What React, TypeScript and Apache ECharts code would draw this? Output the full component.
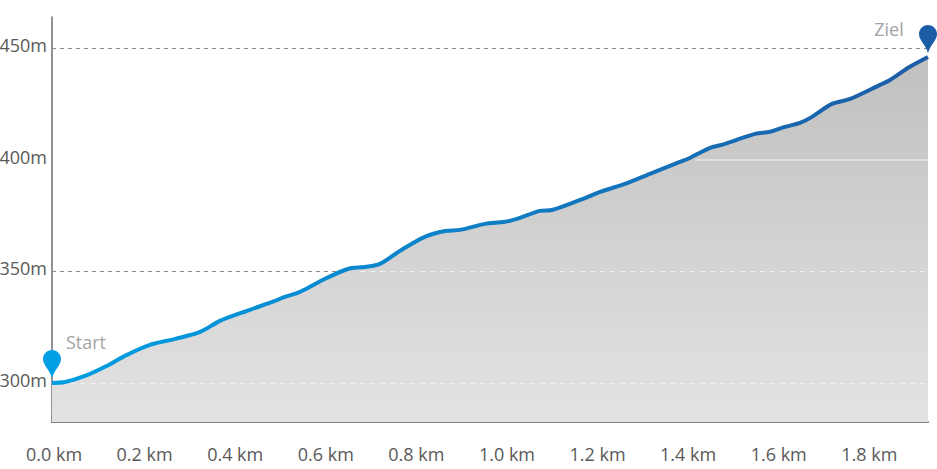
import React, { useEffect, useRef } from "react";
import * as echarts from "echarts";

const distanceKm = [0, 0.029, 0.073, 0.117, 0.161, 0.216, 0.272, 0.327, 0.371, 0.437, 0.492, 0.514, 0.547, 0.603, 0.653, 0.691, 0.724, 0.768, 0.823, 0.868, 0.901, 0.956, 1.0, 1.033, 1.077, 1.104, 1.166, 1.21, 1.265, 1.32, 1.386, 1.408, 1.453, 1.486, 1.552, 1.585, 1.618, 1.651, 1.678, 1.722, 1.762, 1.828, 1.85, 1.894, 1.934];
const elevationM = [300, 300.4, 303.1, 307.2, 312.1, 317, 319.7, 322.8, 327.8, 332.7, 336.7, 338.5, 340.7, 346.6, 351, 351.9, 353.3, 359.1, 365.4, 368, 368.5, 371.2, 372.1, 373.9, 377, 377.4, 381.9, 385.5, 389.1, 393.6, 398.9, 400.7, 405.2, 407, 411.5, 412.4, 414.6, 416.4, 419.1, 424.9, 427.1, 433.4, 435.6, 441.5, 445.9];
const elevationTicks = [300, 350, 400, 450];
const startLabel = "Start";
const endLabel = "Ziel";
const pin = "path://M9 0C4 0 0 4 0 9c0 6 6 10 9 19 3-9 9-13 9-19C18 4 14 0 9 0z";
const FONT = "'Open Sans', sans-serif";

export default function App() {
  const ref = useRef<HTMLDivElement>(null);
  useEffect(() => {
    document.body.style.margin = "0";
    const chart = echarts.init(ref.current!, undefined, { renderer: "svg" });
    const lastKm = distanceKm[distanceKm.length - 1];
    const lastM = elevationM[elevationM.length - 1];
    const greyDash = { color: "#8c8c8c", type: [4, 4] as number[], width: 1 };
    const whiteDash = { color: "#f0f0f0", type: [5, 5] as number[], width: 1 };
    chart.setOption({
      animation: false,
      backgroundColor: "#ffffff",
      grid: { left: 52, top: 17, width: 876, height: 405, containLabel: false, outerBoundsMode: "none" },
      xAxis: {
        type: "value",
        min: 0,
        max: 1.934,
        interval: 0.2,
        splitLine: { show: false },
        axisTick: { show: false },
        axisLine: { show: true, lineStyle: { color: "#808080", width: 2 } },
        axisLabel: {
          margin: 23,
          fontFamily: FONT,
          fontSize: 18,
          color: "#595959",
          padding: [0, 0, 0, 4],
          showMaxLabel: false,
          formatter: (v: number) => `${v.toFixed(1)} km`,
        },
      },
      yAxis: {
        type: "value",
        min: 282.5,
        max: 463.8,
        splitLine: { show: false },
        axisTick: { show: false },
        axisLine: { show: true, lineStyle: { color: "#6e6e6e", width: 1.5 } },
        axisLabel: {
          customValues: elevationTicks,
          margin: 5,
          fontFamily: FONT,
          fontSize: 18,
          color: "#595959",
          verticalAlign: "bottom",
          lineHeight: 6,
          formatter: (v: number) => `${v}m`,
        },
      },
      series: [
        {
          type: "line",
          name: "grid",
          data: [],
          z: 1,
          silent: true,
          markLine: {
            silent: true,
            symbol: "none",
            z: 1,
            label: { show: false },
            lineStyle: greyDash,
            data: [
              [{ coord: [0, 450] }, { coord: [lastKm, 450] }],
              [{ coord: [0, 350] }, { coord: [lastKm, 350] }],
              [{ coord: [0, 300] }, { coord: [lastKm, 300] }],
            ],
          },
        },
        {
          type: "line",
          name: "Höhe",
          data: distanceKm.map((km, i) => [km, elevationM[i]]),
          smooth: 0.3,
          showSymbol: false,
          symbol: "none",
          z: 3,
          lineStyle: {
            width: 4,
            color: new echarts.graphic.LinearGradient(0, 0, 1, 0, [
              { offset: 0, color: "#009fe3" },
              { offset: 1, color: "#1d5ca6" },
            ]),
          },
          areaStyle: {
            opacity: 1,
            color: new echarts.graphic.LinearGradient(0, 0, 0, 1, [
              { offset: 0, color: "#c0c0c0" },
              { offset: 1, color: "#e3e3e3" },
            ]),
          },
          markLine: {
            silent: true,
            symbol: "none",
            z: 4,
            label: { show: false },
            data: [
              [{ coord: [0.68, 350], lineStyle: whiteDash }, { coord: [lastKm, 350] }],
              [{ coord: [0.04, 300], lineStyle: whiteDash }, { coord: [lastKm, 300] }],
              [{ coord: [1.42, 400], lineStyle: { color: "#e4e4e4", type: "solid", width: 1.5 } }, { coord: [lastKm, 400] }],
            ],
          },
          markPoint: {
            silent: true,
            z: 5,
            data: [
              {
                coord: [0, 300],
                symbol: pin,
                symbolSize: [18, 28],
                symbolOffset: [0, -19],
                itemStyle: { color: "#009fe3" },
                label: { show: true, position: "inside", formatter: startLabel, offset: [34, -22], fontFamily: FONT, fontSize: 18, color: "#a3a3a3" },
              },
              {
                coord: [lastKm, lastM],
                symbol: pin,
                symbolSize: [18, 28],
                symbolOffset: [0, -18],
                itemStyle: { color: "#1d5ca6" },
                label: { show: true, position: "inside", formatter: endLabel, offset: [-39, -10], fontFamily: FONT, fontSize: 18, color: "#a3a3a3" },
              },
            ],
          },
        },
      ],
    });
    return () => chart.dispose();
  }, []);
  return <div ref={ref} style={{ width: 937, height: 469 }} />;
}
